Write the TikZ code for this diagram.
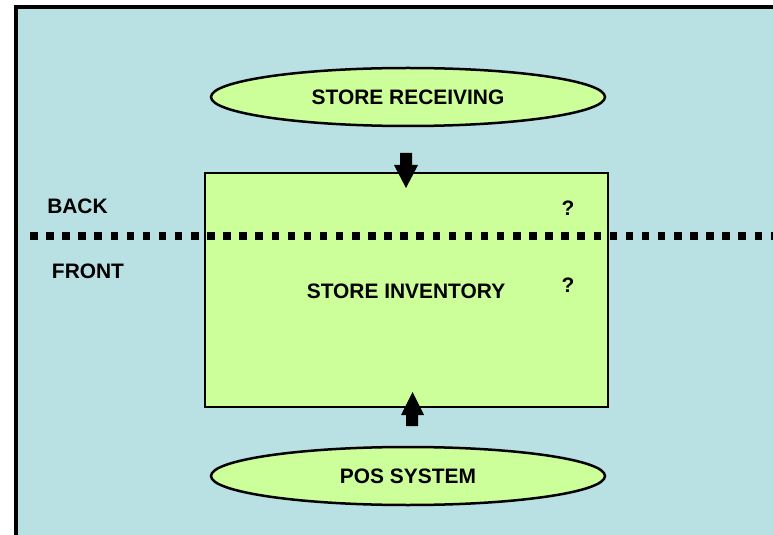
\documentclass[tikz,border=0pt]{standalone}
\usepackage{fontspec}
\setmainfont{Liberation Sans}
\usetikzlibrary{shapes.geometric}
\definecolor{paneblue}{RGB}{185,224,227}
\definecolor{boxgreen}{RGB}{204,255,153}
\tikzset{
  label/.style={font=\fontsize{21}{24}\selectfont\bfseries, inner sep=0pt},
  oval/.style={ellipse, draw=black, line width=2.5bp, fill=boxgreen,
    minimum width=394bp, minimum height=58bp, inner sep=0pt},
  storebox/.style={draw=black, line width=1.8bp, fill=boxgreen},
  blockarrow/.style={fill=black, draw=none},
  divider/.style={draw=black, line width=7.5bp, dash pattern=on 7.5bp off 8.6bp}
}
\begin{document}
\begin{tikzpicture}[x=1bp, y=-1bp]
\useasboundingbox (0,0) rectangle (773,535);
% pane
\fill[black] (14,5) rectangle (780,540);
\fill[paneblue] (18,9) rectangle (780,540);
% store inventory box
\draw[storebox] (205,173) rectangle (608,407);
\node[label] (inv) at (406,291) {STORE INVENTORY};
\node[label] (q1) at (568,208) {?};
\node[label] (q2) at (568,285) {?};
% back / front divider
\coordinate (dl) at (30,236);
\coordinate (dr) at (775,236);
\draw[divider] (dl) -- (dr);
\draw[black, line width=1.8bp] (205,231) -- (205,241) (608,231) -- (608,241);
\node[label] (back) at (77.5,206) {BACK};
\node[label] (front) at (88,271.5) {FRONT};
% source ovals
\node[oval] (recv) at (408,97) {};
\node[label] at (recv.center) {STORE RECEIVING};
\node[oval] (pos) at (408,476) {};
\node[label] at (pos.center) {POS SYSTEM};
% block arrows into the box
\fill[blockarrow] (400,153) -- (412,153) -- (412,165) -- (418,165) -- (406,188)
  -- (394,165) -- (400,165) -- cycle;
\fill[blockarrow] (406,426) -- (418,426) -- (418,415) -- (424,415) -- (412.5,392)
  -- (401,415) -- (406,415) -- cycle;
\end{tikzpicture}
\end{document}
